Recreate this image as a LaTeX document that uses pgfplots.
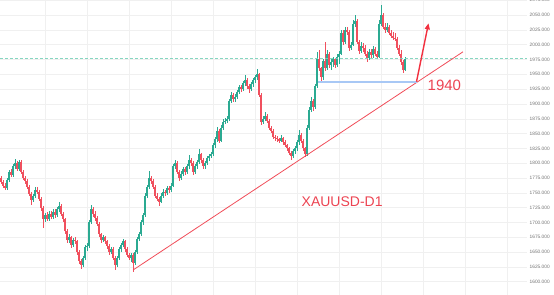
\documentclass[border=0pt]{standalone}
\usepackage{pgfplots}
\pgfplotsset{compat=1.18}
\usepackage{pgfplotstable}
\usepackage{fontspec}
\setmainfont{Liberation Sans}
\usetikzlibrary{arrows.meta}
\definecolor{upc}{HTML}{2BAA92}
\definecolor{dnc}{HTML}{F0505E}
\definecolor{trc}{HTML}{F04C58}
\definecolor{blc}{HTML}{A8C8F5}
\definecolor{arc}{HTML}{F2303F}
\definecolor{txtc}{HTML}{EC4452}
\definecolor{dshc}{RGB}{120,210,185}
\pgfplotstableread{
x o h l c
1 1775 1779 1765 1768
3 1768 1771 1758 1762
5 1762 1766 1754 1758
7 1758 1775 1755 1772
9 1772 1789 1769 1785
11 1785 1790 1776 1780
13 1780 1798 1777 1795
15 1795 1807 1791 1800
17 1800 1803 1786 1790
19 1790 1806 1787 1802
21 1802 1805 1781 1785
23 1785 1788 1771 1775
25 1775 1779 1765 1770
27 1770 1773 1756 1760
29 1760 1763 1744 1748
31 1748 1751 1729 1738
33 1738 1748 1734 1745
35 1745 1759 1742 1755
37 1755 1760 1748 1752
39 1752 1755 1736 1740
41 1740 1743 1720 1725
43 1725 1728 1690 1705
45 1705 1716 1700 1712
47 1712 1717 1702 1706
49 1706 1720 1703 1715
51 1715 1719 1706 1710
53 1710 1722 1706 1718
55 1718 1722 1708 1712
57 1712 1726 1709 1722
59 1722 1735 1718 1728
61 1728 1731 1711 1715
63 1715 1718 1700 1705
65 1705 1708 1680 1685
67 1685 1689 1665 1670
69 1670 1680 1666 1675
71 1675 1678 1657 1662
73 1662 1674 1659 1670
75 1670 1676 1663 1668
77 1668 1671 1645 1650
79 1650 1653 1630 1635
81 1635 1638 1622 1628
83 1628 1644 1625 1640
85 1640 1662 1637 1658
87 1658 1665 1652 1660
89 1660 1704 1657 1700
91 1700 1729 1697 1722
93 1722 1726 1710 1715
95 1715 1719 1703 1708
97 1708 1711 1694 1698
99 1698 1701 1676 1680
101 1680 1683 1665 1670
103 1670 1679 1667 1675
105 1675 1678 1663 1668
107 1668 1671 1656 1660
109 1660 1663 1645 1650
111 1650 1659 1647 1655
113 1655 1658 1636 1640
115 1640 1643 1619 1628
117 1628 1643 1625 1640
119 1640 1658 1637 1655
121 1655 1666 1651 1662
123 1662 1672 1658 1668
125 1668 1671 1651 1655
127 1655 1658 1641 1645
129 1645 1649 1636 1640
131 1640 1649 1634 1645
133 1645 1648 1617 1632
135 1632 1653 1628 1650
137 1650 1675 1646 1672
139 1672 1684 1668 1680
141 1680 1704 1677 1700
143 1700 1716 1696 1712
145 1712 1749 1709 1745
147 1745 1764 1741 1760
149 1760 1786 1756 1775
151 1775 1779 1765 1770
153 1770 1773 1756 1760
155 1760 1763 1741 1745
157 1745 1749 1736 1740
159 1740 1743 1728 1735
161 1735 1749 1732 1745
163 1745 1756 1741 1752
165 1752 1755 1745 1750
167 1750 1762 1747 1758
169 1758 1761 1750 1755
171 1755 1766 1751 1762
173 1762 1799 1759 1795
175 1795 1805 1791 1800
177 1800 1803 1781 1785
179 1785 1788 1770 1775
181 1775 1786 1772 1782
183 1782 1794 1778 1790
185 1790 1793 1780 1785
187 1785 1799 1782 1795
189 1795 1813 1791 1805
191 1805 1808 1796 1800
193 1800 1803 1780 1785
195 1785 1799 1782 1795
197 1795 1806 1791 1802
199 1802 1824 1798 1815
201 1815 1818 1801 1805
203 1805 1808 1790 1795
205 1795 1804 1791 1800
207 1800 1812 1797 1808
209 1808 1816 1804 1812
211 1812 1819 1808 1815
213 1815 1834 1812 1830
215 1830 1844 1826 1840
217 1840 1861 1836 1855
219 1855 1858 1834 1838
221 1838 1864 1835 1860
223 1860 1874 1856 1870
225 1870 1876 1866 1872
227 1872 1879 1868 1875
229 1875 1909 1872 1905
231 1905 1920 1901 1915
233 1915 1918 1904 1908
235 1908 1916 1904 1912
237 1912 1924 1908 1920
239 1920 1932 1916 1928
241 1928 1932 1920 1925
243 1925 1939 1921 1935
245 1935 1949 1931 1940
247 1940 1943 1926 1930
249 1930 1934 1918 1925
251 1925 1937 1921 1933
253 1933 1944 1929 1940
255 1940 1949 1936 1945
257 1945 1959 1941 1950
259 1950 1953 1911 1915
261 1915 1918 1864 1870
263 1870 1879 1866 1875
265 1875 1886 1871 1880
267 1880 1883 1868 1872
269 1872 1875 1856 1860
271 1860 1863 1851 1855
273 1855 1858 1840 1845
275 1845 1848 1838 1842
277 1842 1846 1836 1840
279 1840 1843 1834 1838
281 1838 1847 1835 1842
283 1842 1845 1831 1835
285 1835 1839 1827 1830
287 1830 1833 1821 1825
289 1825 1828 1814 1818
291 1818 1821 1805 1812
293 1812 1824 1809 1820
295 1820 1829 1816 1825
297 1825 1839 1821 1835
299 1835 1856 1831 1848
301 1848 1851 1834 1838
303 1838 1841 1821 1825
305 1825 1828 1810 1815
307 1815 1864 1812 1860
309 1860 1894 1856 1890
311 1890 1911 1886 1905
313 1905 1908 1888 1895
315 1895 1934 1891 1930
317 1930 1988 1927 1975
319 1975 1991 1956 1960
321 1960 1963 1937 1945
323 1945 1976 1941 1972
325 1972 2004 1956 1960
327 1960 1991 1957 1985
329 1985 1988 1960 1965
331 1965 1975 1957 1970
333 1970 1979 1962 1975
335 1975 1978 1961 1965
337 1965 1984 1962 1980
339 1980 1989 1967 1985
341 1985 2025 1982 2020
343 2020 2025 2000 2005
345 2005 2030 2001 2025
347 2025 2030 2016 2022
349 2022 2025 1990 1995
351 1995 2005 1991 2000
353 2000 2042 1997 2035
355 2035 2050 2030 2040
357 2040 2043 2001 2005
359 2005 2008 1985 1990
361 1990 2004 1986 1998
363 1998 2002 1988 1995
365 1995 1999 1981 1985
367 1985 1990 1970 1978
369 1978 1993 1974 1988
371 1988 1992 1977 1982
373 1982 1997 1978 1992
375 1992 1996 1981 1985
377 1985 1990 1975 1980
379 1980 2042 1977 2035
381 2035 2067 2031 2050
383 2050 2054 2026 2030
385 2030 2036 2020 2025
387 2025 2036 2021 2030
389 2030 2034 2016 2020
391 2020 2025 2011 2015
393 2015 2021 2008 2012
395 2012 2019 2006 2010
397 2010 2013 1991 1995
399 1995 1999 1981 1985
401 1985 1991 1966 1970
403 1970 1974 1953 1958
405 1958 1979 1955 1976
}\candles
\pgfplotsset{
  candle/.style={only marks, mark=*, mark size=0pt, mark options={draw opacity=0, fill opacity=0},
    error bars/.cd, y dir=both, y explicit, error mark=none},
}
\begin{document}
\begin{tikzpicture}
\begin{axis}[
  scale only axis, width=527bp, height=295bp,
  xmin=0, xmax=527, ymin=1577.6, ymax=2075.4,
  axis line style={draw=none},
  major tick length=0pt,
  xtick={45,87,...,507}, xticklabels={},
  ytick={1600,1625,...,2075},
  yticklabel pos=right,
  grid=major, grid style={color=black!6, line width=0.5bp},
  yticklabel style={font=\fontsize{4.8bp}{5bp}\selectfont, color=black!55, inner sep=0pt, xshift=2.5bp,
    /pgf/number format/.cd, fixed, fixed zerofill, precision=3, 1000 sep={}, assume math mode=true},
]
% wicks
\addplot[candle, error bar style={line width=0.55bp, draw=upc, solid}]
  table[x=x, y=o, y error plus expr={(\thisrow{c}>\thisrow{o})*(\thisrow{h}-\thisrow{o})},
    y error minus expr={(\thisrow{c}>\thisrow{o})*(\thisrow{o}-\thisrow{l})}] {\candles};
\addplot[candle, error bar style={line width=0.55bp, draw=dnc, solid}]
  table[x=x, y=o, y error plus expr={(\thisrow{o}>\thisrow{c})*(\thisrow{h}-\thisrow{o})},
    y error minus expr={(\thisrow{o}>\thisrow{c})*(\thisrow{o}-\thisrow{l})}] {\candles};
% bodies
\addplot[candle, error bar style={line width=1.6bp, draw=upc, solid}]
  table[x=x, y=o, y error plus expr={max(\thisrow{c}-\thisrow{o},0)}, y error minus expr={0}] {\candles};
\addplot[candle, error bar style={line width=1.6bp, draw=dnc, solid}]
  table[x=x, y=o, y error plus expr={0}, y error minus expr={max(\thisrow{o}-\thisrow{c},0)}] {\candles};
% current price line
\addplot[dshc, line width=0.8bp, dash pattern=on 3bp off 2bp, opacity=0.9] coordinates {(0,1976) (527,1976)};
% annotations
\addplot[draw=trc, line width=0.8bp] coordinates {(133,1619.7) (463,1988)};
\addplot[draw=blc, line width=1.8bp] coordinates {(318,1937.5) (417,1937.5)};
\addplot[draw=arc, fill=arc, line width=1.4bp, -{Triangle[length=6bp,width=5bp]}] coordinates {(416.5,1937.5) (428.5,2036)};
\node[anchor=west, text=txtc, font=\fontsize{15bp}{18bp}\selectfont, inner sep=0pt] at (axis cs:427.5,1931) {1940};
\node[anchor=west, text=txtc, font=\fontsize{14bp}{17bp}\selectfont, inner sep=0pt] at (axis cs:301.5,1735) {XAUUSD-D1};
\end{axis}
\pgfresetboundingbox
\path[use as bounding box] (current axis.south west) rectangle ([xshift=27bp]current axis.north east);
\end{tikzpicture}
\end{document}
